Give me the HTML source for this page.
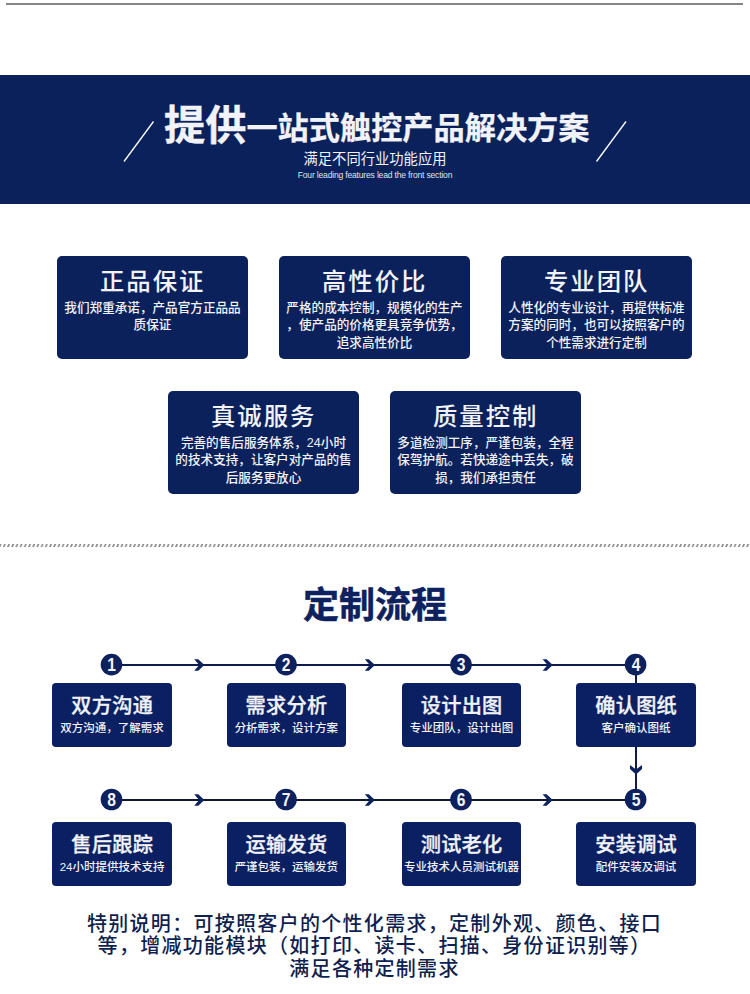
<!DOCTYPE html>
<html lang="zh-CN">
<head>
<meta charset="utf-8">
<title>定制流程</title>
<style>
*{margin:0;padding:0;box-sizing:border-box}
html,body{width:750px;height:994px;background:#fff;overflow:hidden}
body{position:relative;font-family:"Liberation Sans","Noto Sans CJK SC",sans-serif;color:#0c215d}
.abs{position:absolute}
.topline{left:6px;top:3px;width:736.5px;height:2px;background:#858585}
.banner{left:0;top:75px;width:750px;height:128.5px;background:#0b215b}
.h1{left:0;top:97px;width:753.5px;text-align:center;color:#f2f3f8;font-weight:700;font-size:31.2px;line-height:56px;white-space:nowrap;-webkit-text-stroke:0.25px #f2f3f8}
.h1 b{font-size:41.2px;font-weight:700;position:relative;top:1.4px;-webkit-text-stroke:0.4px #f2f3f8}
.sub{left:0;top:149px;width:750px;text-align:center;color:#f2f3f8;font-size:14.3px;line-height:20px;font-weight:400}
.en{left:0;top:168.8px;width:750px;text-align:center;color:#dfe3f0;font-size:9.3px;line-height:12px;letter-spacing:-0.2px;transform:scaleX(.92);transform-origin:375px 0}
.card{width:191px;height:103px;background:#0b215c;border-radius:5px;color:#f2f3f8;text-align:center}
.card h3{font-size:24.4px;font-weight:500;line-height:30px;padding-top:11.1px;letter-spacing:1.9px;text-indent:0.3px}
.card p{font-size:12.6px;line-height:17.4px;padding-top:2.6px;white-space:nowrap;font-weight:500}
.h2{left:0;top:580.7px;width:750px;text-align:center;font-size:36px;font-weight:700;line-height:50px;color:#0c215d;-webkit-text-stroke:0.5px #0c215d}
.step{width:119.4px;height:63.5px;background:#0a2063;border-radius:4px;color:#f2f3f8;text-align:center}
.step h4{font-size:20.2px;font-weight:500;line-height:26px;padding-top:10px;letter-spacing:0.3px;text-indent:0.3px;-webkit-text-stroke:0.3px #f2f3f8}
.step p{font-size:11.5px;line-height:16px;padding-top:1.3px;white-space:nowrap;font-weight:500}
.note{left:0;top:912.8px;width:749px;text-align:center;font-size:20px;line-height:22.6px;color:#0f1f4f;letter-spacing:1.3px;white-space:nowrap;font-weight:500}
svg{position:absolute;left:0;top:0}
</style>
</head>
<body>
<div class="abs topline"></div>
<div class="abs banner"></div>
<div class="abs h1"><b>提供</b>一站式触控产品解决方案</div>
<div class="abs sub">满足不同行业功能应用</div>
<div class="abs en">Four leading features lead the front section</div>

<div class="abs card" style="left:57px;top:256px"><h3>正品保证</h3><p>我们郑重承诺，产品官方正品品<br>质保证</p></div>
<div class="abs card" style="left:279px;top:256px"><h3>高性价比</h3><p>严格的成本控制，规模化的生产<br>，使产品的价格更具竞争优势，<br>追求高性价比</p></div>
<div class="abs card" style="left:501px;top:256px"><h3>专业团队</h3><p>人性化的专业设计，再提供标准<br>方案的同时，也可以按照客户的<br>个性需求进行定制</p></div>
<div class="abs card" style="left:168px;top:391px"><h3>真诚服务</h3><p>完善的售后服务体系，24小时<br>的技术支持，让客户对产品的售<br>后服务更放心</p></div>
<div class="abs card" style="left:390px;top:391px"><h3>质量控制</h3><p>多道检测工序，严谨包装，全程<br>保驾护航。若快递途中丢失，破<br>损，我们承担责任</p></div>

<svg class="abs" width="750" height="994" viewBox="0 0 750 994">
  <defs>
    <pattern id="hatch" x="-2.1" y="544" width="4.2" height="3" patternUnits="userSpaceOnUse">
      <path d="M0.7 3 L1.9 0 L3.7 0 L2.5 3 Z" fill="#8a8a8c"/>
    </pattern>
  </defs>
  <line x1="124" y1="161.5" x2="153.5" y2="121.5" stroke="#fff" stroke-width="1.3"/>
  <line x1="596.5" y1="161.5" x2="626" y2="121.5" stroke="#fff" stroke-width="1.3"/>
  <rect x="0" y="544" width="750" height="3" fill="url(#hatch)"/>
  <g stroke-width="2" fill="none">
    <line x1="112" y1="665" x2="635" y2="665" stroke="#0d1b4e"/>
    <line x1="112" y1="799.9" x2="635" y2="799.9" stroke="#10162f"/>
    <line x1="636" y1="665" x2="636" y2="800" stroke="#0d1b4e"/>
  </g>
  <g fill="#0c215d">
    <polygon points="194.2,659.3 198.2,659.3 204.4,665.0 198.2,670.7 194.2,670.7 199.2,665.0"/>
    <polygon points="364.8,659.3 368.8,659.3 375.0,665.0 368.8,670.7 364.8,670.7 369.8,665.0"/>
    <polygon points="542.6,659.3 546.6,659.3 552.8,665.0 546.6,670.7 542.6,670.7 547.6,665.0"/>
    <polygon points="194.2,794.3 198.2,794.3 204.4,800.0 198.2,805.7 194.2,805.7 199.2,800.0"/>
    <polygon points="364.8,794.3 368.8,794.3 375.0,800.0 368.8,805.7 364.8,805.7 369.8,800.0"/>
    <polygon points="542.6,794.3 546.6,794.3 552.8,800.0 546.6,805.7 542.6,805.7 547.6,800.0"/>
    <polygon points="630.0,765.0 630.0,769.0 636.0,774.6 642.0,769.0 642.0,765.0 636.0,769.4"/>
  </g>
  <g fill="#0c215d">
    <circle cx="111.5" cy="664.6" r="10.8"/><circle cx="286" cy="664.6" r="10.8"/><circle cx="461" cy="664.6" r="10.8"/><circle cx="635.6" cy="664.6" r="10.8"/>
    <circle cx="111.5" cy="799.5" r="10.8"/><circle cx="286" cy="799.5" r="10.8"/><circle cx="461" cy="799.5" r="10.8"/><circle cx="635.6" cy="799.5" r="10.8"/>
  </g>
  <g fill="#f4f5fa" font-family="Liberation Sans, sans-serif" font-weight="700" font-size="18.6" text-anchor="middle">
    <text transform="translate(111.5 671.1) scale(.84 1)">1</text>
    <text transform="translate(286 671.1) scale(.84 1)">2</text>
    <text transform="translate(461 671.1) scale(.84 1)">3</text>
    <text transform="translate(636 671.1) scale(.84 1)">4</text>
    <text transform="translate(111.5 806) scale(.84 1)">8</text>
    <text transform="translate(286 806) scale(.84 1)">7</text>
    <text transform="translate(461 806) scale(.84 1)">6</text>
    <text transform="translate(636 806) scale(.84 1)">5</text>
  </g>
</svg>

<div class="abs h2">定制流程</div>

<div class="abs step" style="left:52.4px;top:683px"><h4>双方沟通</h4><p>双方沟通，了解需求</p></div>
<div class="abs step" style="left:226.7px;top:683px"><h4>需求分析</h4><p>分析需求，设计方案</p></div>
<div class="abs step" style="left:401.8px;top:683px"><h4>设计出图</h4><p>专业团队，设计出图</p></div>
<div class="abs step" style="left:576.3px;top:683px"><h4>确认图纸</h4><p>客户确认图纸</p></div>
<div class="abs step" style="left:52.4px;top:822px"><h4>售后跟踪</h4><p>24小时提供技术支持</p></div>
<div class="abs step" style="left:226.7px;top:822px"><h4>运输发货</h4><p>严谨包装，运输发货</p></div>
<div class="abs step" style="left:401.8px;top:822px"><h4>测试老化</h4><p>专业技术人员测试机器</p></div>
<div class="abs step" style="left:576.3px;top:822px"><h4>安装调试</h4><p>配件安装及调试</p></div>

<div class="abs note">特别说明：可按照客户的个性化需求，定制外观、颜色、接口<br>等，增减功能模块（如打印、读卡、扫描、身份证识别等）<br>满足各种定制需求</div>
</body>
</html>
